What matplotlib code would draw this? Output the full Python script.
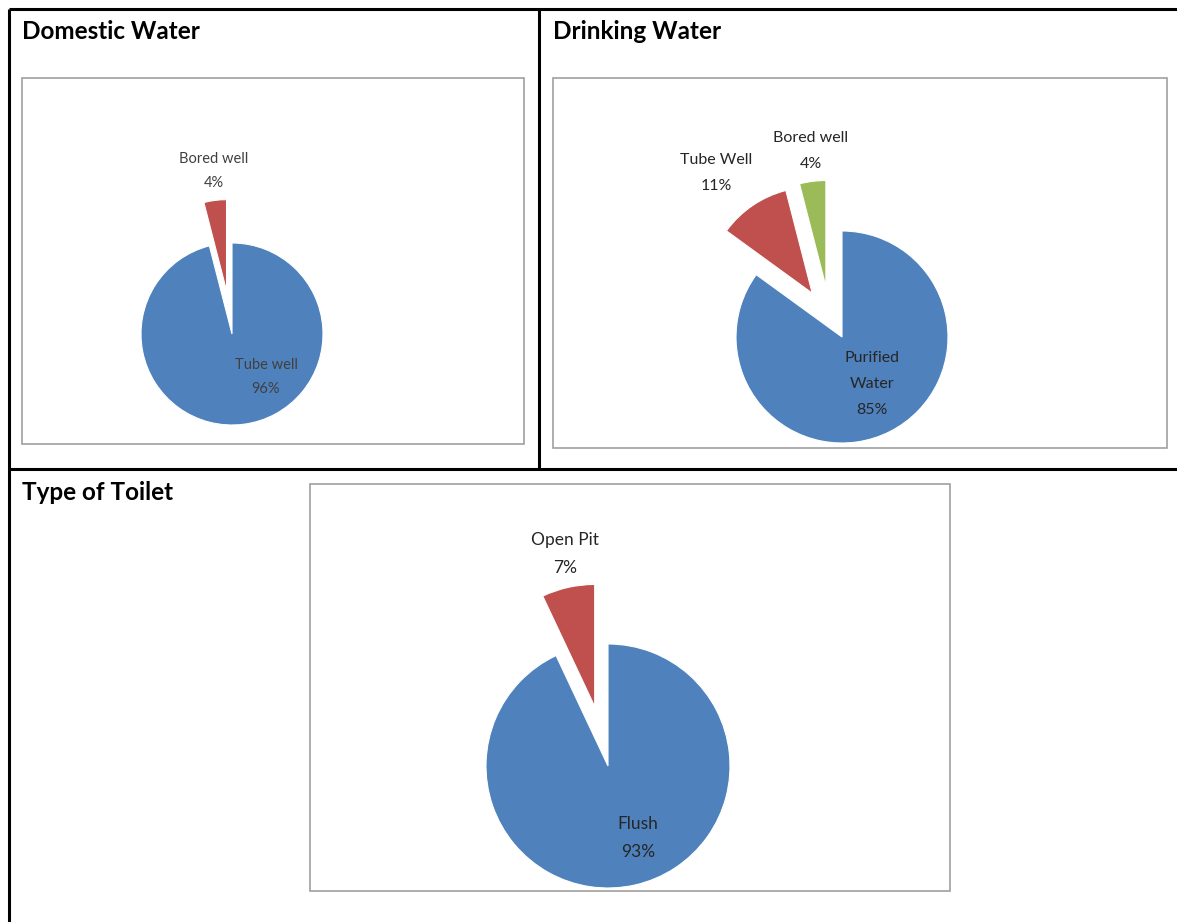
import math
import matplotlib
matplotlib.use("Agg")
import matplotlib.pyplot as plt
from matplotlib.patches import Rectangle

# ---------------- data ----------------
titles = ["Domestic Water", "Drinking Water", "Type of Toilet"]

domestic_labels = ["Tube well", "Bored well"]
domestic_values = [96, 4]

drinking_labels = ["Purified\nWater", "Tube Well", "Bored well"]
drinking_values = [85, 11, 4]

toilet_labels = ["Flush", "Open Pit"]
toilet_values = [93, 7]

# ---------------- styling ----------------
W, H = 1177, 922
BLUE, RED, GREEN = "#4F81BD", "#C0504D", "#9BBB59"
FONT = "Lato"

fig = plt.figure(figsize=(W / 100, H / 100), dpi=100)
ax = fig.add_axes([0, 0, 1, 1])
ax.set_xlim(0, W)
ax.set_ylim(0, H)
ax.set_aspect("equal")
ax.axis("off")


def Y(py):
    return H - py


# table lines
lw_t = 2.2
ax.plot([9, W], [Y(9), Y(9)], color="black", lw=lw_t, solid_capstyle="butt")
ax.plot([9, 9], [Y(9), Y(H)], color="black", lw=lw_t, solid_capstyle="butt")
ax.plot([539, 539], [Y(9), Y(469)], color="black", lw=lw_t, solid_capstyle="butt")
ax.plot([9, W], [Y(469), Y(469)], color="black", lw=lw_t, solid_capstyle="butt")

# chart frames (x0, y0, x1, y1 in pixels)
frames = [(22, 78, 524, 444), (553, 78, 1167, 448), (310, 484, 950, 891)]
for x0, y0, x1, y1 in frames:
    ax.add_patch(Rectangle((x0, Y(y1)), x1 - x0, y1 - y0, fill=False,
                           edgecolor="#A0A0A0", lw=1.2))

# titles
title_pos = [(22, 39), (553, 39), (22, 500)]
for t, (tx, ty) in zip(titles, title_pos):
    ax.text(tx, Y(ty), t, fontsize=17.5, fontweight="bold", family=FONT,
            ha="left", va="baseline", color="black")


def draw_pie(values, labels, colors, cx, cy, r, explode_frac, label_pos,
             fontsize, tcolor, linespacing, explode_dir=None):
    explode = [f * r for f in explode_frac]
    wedges, _ = ax.pie(values, colors=colors, startangle=90,
                       counterclock=False, center=(cx, Y(cy)), radius=r,
                       explode=explode,
                       wedgeprops=dict(edgecolor="white", linewidth=0.8),
                       frame=True)
    # optional custom explode direction (degrees) per wedge
    if explode_dir:
        for w, f, d in zip(wedges, explode_frac, explode_dir):
            if d is not None:
                a = math.radians(d)
                w.set_center((cx + f * r * math.cos(a),
                              Y(cy) + f * r * math.sin(a)))
    for lab, v, (lx, ly) in zip(labels, values, label_pos):
        ax.text(lx, Y(ly), f"{lab}\n{v}%", ha="center", va="center",
                fontsize=fontsize, family=FONT, color=tcolor,
                linespacing=linespacing)


draw_pie(domestic_values, domestic_labels, [BLUE, RED], 232, 334, 91,
         [0, 0.48], [(266, 377), (214, 171)], 10.5, "#404040", 1.83)
draw_pie(drinking_values, drinking_labels, [BLUE, RED, GREEN], 842, 337, 106,
         [0, 0.5, 0.5], [(872, 384), (716, 173), (811, 151)], 11.5,
         "#262626", 2.1, explode_dir=[None, None, 107.7])
draw_pie(toilet_values, toilet_labels, [BLUE, RED], 608, 766, 122,
         [0, 0.5], [(638, 838), (565, 554)], 12.5, "#262626", 1.96)

ax.set_xlim(0, W)
ax.set_ylim(0, H)
ax.axis("off")

fig.savefig("out.png", dpi=100, facecolor="white")
